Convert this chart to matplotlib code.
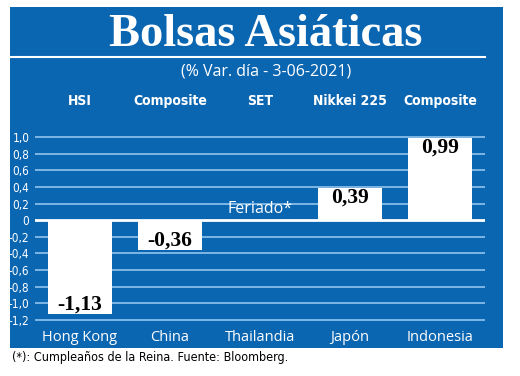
import matplotlib
matplotlib.use("Agg")
import matplotlib.pyplot as plt
from matplotlib.patches import Rectangle
from matplotlib.lines import Line2D
import matplotlib.transforms as mtransforms

# data
countries = ["Hong Kong", "China", "Thailandia", "Japón", "Indonesia"]
indices = ["HSI", "Composite", "SET", "Nikkei 225", "Composite"]
values = [-1.13, -0.36, None, 0.39, 0.99]
value_labels = ["-1,13", "-0,36", None, "0,39", "0,99"]
yticks = [1.0, 0.8, 0.6, 0.4, 0.2, 0, -0.2, -0.4, -0.6, -0.8, -1.0, -1.2]
ytick_labels = ["1,0", "0,8", "0,6", "0,4", "0,2", "0", "-0,2", "-0,4", "-0,6", "-0,8", "-1,0", "-1,2"]

BLUE = "#0b66b2"
GRID = "#86bde9"
W, H = 520, 376
sans = ["Open Sans", "DejaVu Sans"]
serif = ["Liberation Serif", "DejaVu Serif"]

fig = plt.figure(figsize=(W / 100, H / 100), dpi=100)
fig.patch.set_facecolor("white")

def fx(px):
    return px / W

def fy(py):
    return 1 - py / H

# blue panel
fig.patches.append(Rectangle((fx(10), fy(348)), fx(503) - fx(10), fy(7) - fy(348),
                             transform=fig.transFigure, facecolor=BLUE, edgecolor="none", zorder=-5))
fig.lines.append(Line2D([fx(10), fx(485)], [fy(57), fy(57)], transform=fig.transFigure,
                        color="white", lw=1.5, zorder=1))

fig.text(fx(266), fy(46), "Bolsas Asiáticas", family=serif, weight="bold", fontsize=33.5,
         color="white", ha="center", va="baseline")
fig.text(fx(266), fy(72), "(% Var. día - 3-06-2021)", family=sans, fontsize=11.5,
         color="white", ha="center", va="center")

# axes
ymin, ymax = -1.25, 1.05
ppu = (320 - 137) / 2.2
top_px = 137 - 0.05 * ppu
bot_px = 320 + 0.05 * ppu
ax = fig.add_axes([fx(35), fy(bot_px), fx(485) - fx(35), (bot_px - top_px) / H])
ax.set_zorder(3)
ax.set_facecolor("none")
ax.set_xlim(-0.5, 4.5)
ax.set_ylim(ymin, ymax)
for s in ax.spines.values():
    s.set_visible(False)

for t in yticks:
    if t == 0:
        ax.axhline(t, color="white", lw=2.0, zorder=3)
    else:
        ax.axhline(t, color=GRID, lw=1.3, zorder=1)

x = list(range(len(countries)))
for i, v in enumerate(values):
    if v is None:
        continue
    ax.bar(i, v, width=0.72, color="white", zorder=2)
    off = -0.115 if v > 0 else 0.115
    ax.text(i, v + off, value_labels[i], family=serif, weight="bold", fontsize=15.5,
            color="black", ha="center", va="center", zorder=4)

ax.text(2, 0.13, "Feriado*", family=sans, fontsize=11.5, color="white",
        ha="center", va="center", zorder=4)

ax.set_yticks(yticks)
ax.set_yticklabels(ytick_labels, family="DejaVu Sans", stretch="condensed", fontsize=8.5, color="white")
ax.set_xticks(x)
ax.set_xticklabels(countries, family=sans, fontsize=10.5, color="white")
ax.tick_params(axis="both", length=0)
ax.tick_params(axis="y", pad=4)
ax.tick_params(axis="x", pad=4)

trans = mtransforms.blended_transform_factory(ax.transData, fig.transFigure)
for i, name in enumerate(indices):
    ax.text(i, fy(101), name, family="DejaVu Sans", stretch="condensed", weight="bold",
            fontsize=10, color="white", ha="center", va="center", transform=trans)

fig.text(fx(12), fy(358), "(*): Cumpleaños de la Reina. Fuente: Bloomberg.", family="DejaVu Sans",
         stretch="condensed", fontsize=9, color="black", ha="left", va="center")

fig.savefig("out.png", dpi=100)
